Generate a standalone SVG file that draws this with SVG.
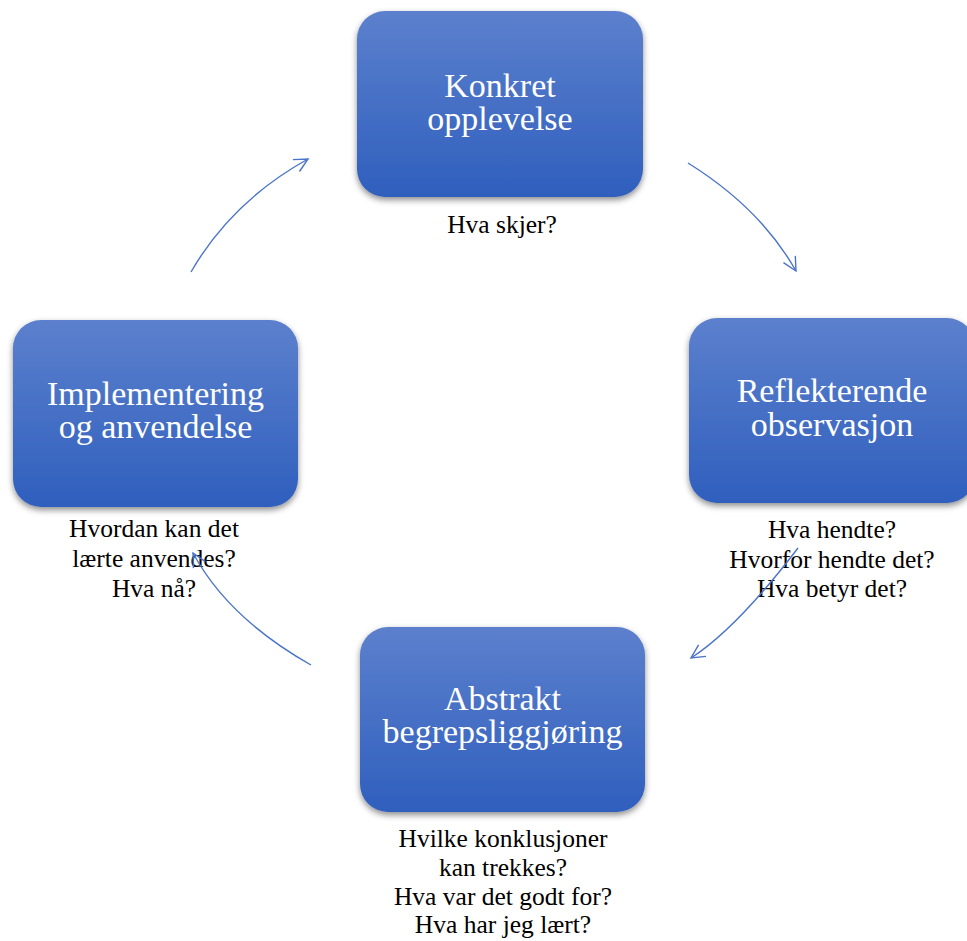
<svg xmlns="http://www.w3.org/2000/svg" width="967" height="941" viewBox="0 0 967 941">
  <defs>
    <linearGradient id="boxFill" x1="0" y1="0" x2="0" y2="1">
      <stop offset="0" stop-color="#5c80cd"/>
      <stop offset="1" stop-color="#2f5fbd"/>
    </linearGradient>
    <filter id="shadow" x="-10%" y="-10%" width="120%" height="130%">
      <feDropShadow dx="0" dy="3" stdDeviation="3" flood-color="#000" flood-opacity="0.45"/>
    </filter>
    <marker id="openArrow" markerUnits="userSpaceOnUse" markerWidth="20" markerHeight="20" viewBox="-16 -10 20 20" refX="0" refY="0" orient="auto">
      <path d="M-13.5,-6.8 L0,0 L-13.5,6.8" fill="none" stroke="#4a74c8" stroke-width="1.4"/>
    </marker>
    <style>
      .box { fill: url(#boxFill); filter: url(#shadow); }
      .title { font-family: "Liberation Serif", "Times New Roman", serif; font-size: 34px; fill: #ffffff; text-anchor: middle; }
      .note { font-family: "Liberation Serif", "Times New Roman", serif; font-size: 25.5px; fill: #000000; text-anchor: middle; }
      .link { fill: none; stroke: #4a74c8; stroke-width: 1.4; marker-end: url(#openArrow); }
    </style>
  </defs>

  <rect width="967" height="941" fill="#ffffff"/>

  <g id="konkret">
    <rect class="box" x="357" y="11" width="286" height="186" rx="28" ry="28"/>
    <text class="title" x="500" y="97">Konkret</text>
    <text class="title" x="500" y="130">opplevelse</text>
    <text class="note" x="502" y="233">Hva skjer?</text>
  </g>

  <g id="reflekterende">
    <rect class="box" x="689" y="318" width="286" height="185" rx="28" ry="28"/>
    <text class="title" x="832" y="402">Reflekterende</text>
    <text class="title" x="832" y="436">observasjon</text>
    <text class="note" x="832" y="538">Hva hendte?</text>
    <text class="note" x="832" y="568">Hvorfor hendte det?</text>
    <text class="note" x="832" y="597">Hva betyr det?</text>
  </g>

  <g id="abstrakt">
    <rect class="box" x="360" y="627" width="285" height="185" rx="28" ry="28"/>
    <text class="title" x="502.5" y="710">Abstrakt</text>
    <text class="title" x="502.5" y="743">begrepsliggjøring</text>
    <text class="note" x="503" y="847">Hvilke konklusjoner</text>
    <text class="note" x="503" y="876">kan trekkes?</text>
    <text class="note" x="503" y="905">Hva var det godt for?</text>
    <text class="note" x="503" y="933">Hva har jeg lært?</text>
  </g>

  <g id="implementering">
    <rect class="box" x="13" y="320" width="285" height="187" rx="28" ry="28"/>
    <text class="title" x="155.5" y="405">Implementering</text>
    <text class="title" x="155.5" y="438">og anvendelse</text>
    <text class="note" x="154" y="537">Hvordan kan det</text>
    <text class="note" x="154" y="567">lærte anvendes?</text>
    <text class="note" x="154" y="597">Hva nå?</text>
  </g>

  <g id="connectors">
    <path class="link" d="M191,272 Q231.6,201.4 308,159"/>
    <path class="link" d="M688,163 Q760.7,208.3 796,271"/>
    <path class="link" d="M798,548 Q737,628 691,658"/>
    <path class="link" d="M311,665 Q228,618 193,553"/>
  </g>
</svg>
